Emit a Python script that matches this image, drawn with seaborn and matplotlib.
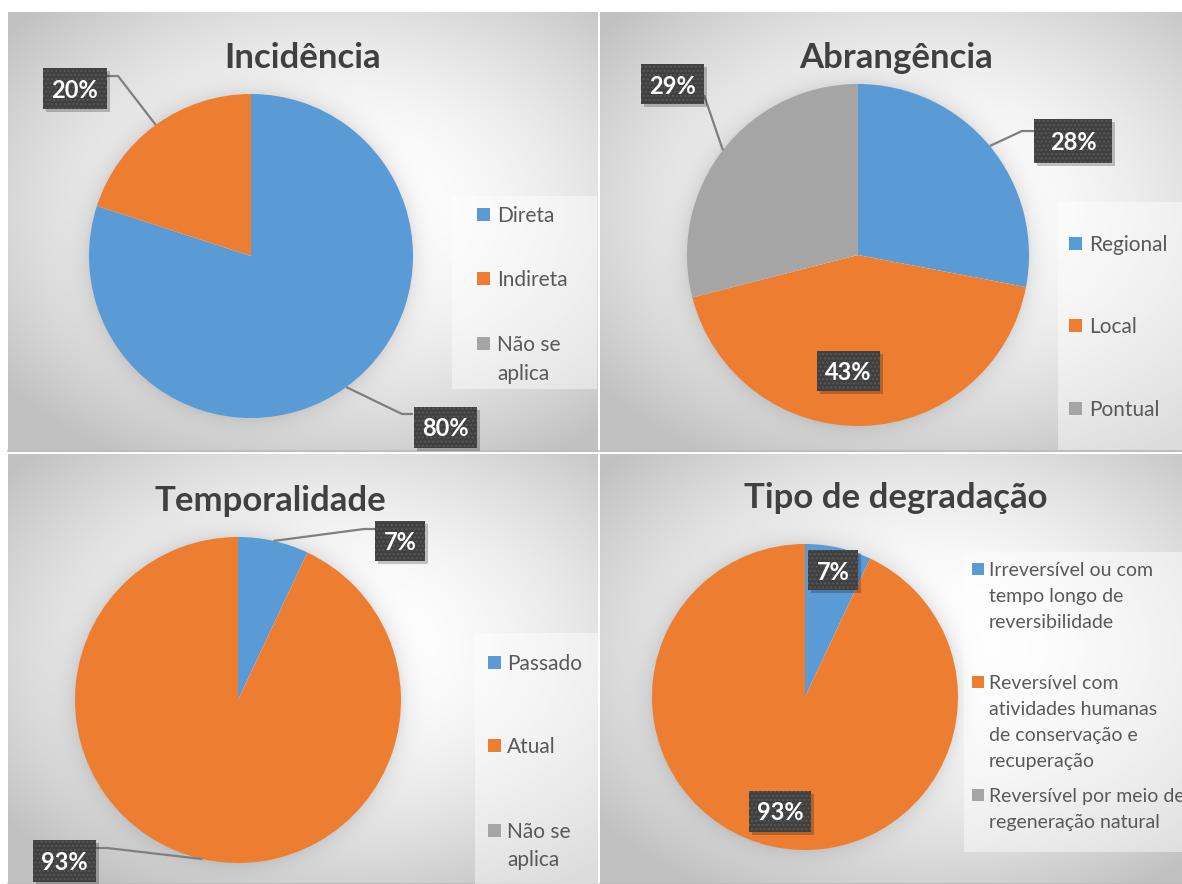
import numpy as np
import matplotlib
matplotlib.use("Agg")
import matplotlib.pyplot as plt
from matplotlib.patches import Rectangle
import seaborn as sns

# ---------------------------------------------------------------- data
titles = ["Incidência", "Abrangência", "Temporalidade", "Tipo de degradação"]

incid_labels = ["Direta", "Indireta", "Não se\naplica"]
incid_values = [80, 20, 0]

abr_labels = ["Regional", "Local", "Pontual"]
abr_values = [28, 43, 29]

temp_labels = ["Passado", "Atual", "Não se\naplica"]
temp_values = [7, 93, 0]

tipo_labels = [
    "Irreversível ou com\ntempo longo de\nreversibilidade",
    "Reversível com\natividades humanas\nde conservação e\nrecuperação",
    "Reversível por meio de\nregeneração natural",
]
tipo_values = [7, 93, 0]

# ---------------------------------------------------------------- style
sns.set_theme(style="white")
plt.rcParams["font.family"] = ["Lato", "DejaVu Sans"]
slice_colors = sns.color_palette(["#5B9BD5", "#ED7D31", "#A5A5A5"])
TITLE_C = "#404040"
LEGEND_C = "#595959"
BOX_C = "#404040"

W, H = 1182, 884


def Y(y):
    """Screen-style (top-down) pixel row to axis y."""
    return H - y


# ---------------------------------------------------------------- layout (pixels, top-down)
panels = [
    dict(rect=(8, 12, 598, 451), center=(251, 256), r=162, title=(303, 68), title_fs=25,
         legend_bg=(452, 196, 597, 389), key_x=477, text_x=497, key_fs=15, line_gap=29,
         entry_y=[214, 278, 343], key_size=13,
         boxes=[((445, 427), 63, 41, [(402, 414), (413, 414)]),
                ((75, 88), 64, 41, [(118, 76), (107, 76)]),
                None]),
    dict(rect=(600, 12, 1182, 451), center=(858, 255), r=171, title=(896, 68), title_fs=25,
         legend_bg=(1058, 202, 1182, 450), key_x=1069, text_x=1089, key_fs=15, line_gap=29,
         entry_y=[243, 325, 408], key_size=13,
         boxes=[((1073, 141), 78, 44, [(1022, 131), (1034, 131)]),
                ((848, 371), 63, 40, None),
                ((672, 84), 63, 40, [(704, 95)])]),
    dict(rect=(8, 454, 598, 884), center=(238, 700), r=163, title=(270, 511), title_fs=25,
         legend_bg=(475, 633, 600, 884), key_x=488, text_x=507, key_fs=15, line_gap=28,
         entry_y=[662, 745, 830], key_size=13,
         boxes=[((400, 541), 50, 40, [(364, 529), (375, 529)]),
                ((64, 861), 63, 42, [(107, 848), (96, 848)]),
                None]),
    dict(rect=(600, 454, 1182, 884), center=(805, 697), r=153, title=(896, 508), title_fs=25,
         legend_bg=(964, 552, 1182, 852), key_x=972, text_x=989, key_fs=14, line_gap=26,
         entry_y=[569, 682, 795], key_size=12,
         boxes=[((833, 570), 50, 40, None),
                ((780, 811), 62, 41, None),
                None]),
]
datasets = [
    (incid_labels, incid_values),
    (abr_labels, abr_values),
    (temp_labels, temp_values),
    (tipo_labels, tipo_values),
]

# ---------------------------------------------------------------- figure
fig = plt.figure(figsize=(W / 100, H / 100), dpi=100, facecolor="white")
ax = fig.add_axes([0, 0, 1, 1])
ax.set_axis_off()


def panel_background(p):
    """Radial light-grey gradient plus a soft shadow ring around the pie."""
    x0, y0, x1, y1 = p["rect"]
    w, h = x1 - x0, y1 - y0
    xx, yy = np.meshgrid(np.arange(x0, x1) + 0.5, np.arange(y0, y1) + 0.5)
    gx, gy = x0 + 0.55 * w, y0 + 0.45 * h
    rn = np.sqrt(((xx - gx) / (0.7 * w)) ** 2 + ((yy - gy) / (0.65 * h)) ** 2)
    t = np.clip((rn - 0.15) / 0.85, 0, 1)
    g = 1.0 - 0.24 * t ** 1.5
    cx, cy = p["center"]
    d = np.hypot(xx - cx, yy - cy) - p["r"]
    halo = np.where(d > -2, 0.10 * np.exp(-np.clip(d, 0, None) / 10.0), 0)
    g = g * (1 - halo)
    img = np.dstack([g, g, g])
    ax.imshow(img, extent=(x0, x1, Y(y1), Y(y0)), origin="upper",
              interpolation="bilinear", zorder=0)


for idx, (p, (labels, values)) in enumerate(zip(panels, datasets)):
    panel_background(p)
    x0, y0, x1, y1 = p["rect"]
    ax.plot([x0, x1], [Y(y1) + 0.5, Y(y1) + 0.5], color="#bdbdbd", lw=1.5, zorder=1)

    # legend backdrop
    lx0, ly0, lx1, ly1 = p["legend_bg"]
    ax.add_patch(Rectangle((lx0, Y(ly1)), lx1 - lx0, ly1 - ly0,
                           fc="white", ec="none", alpha=0.45, zorder=1))

    # pie, clockwise from 12 o'clock
    cx, cy = p["center"]
    wedges, _ = ax.pie(values, colors=slice_colors, startangle=90, counterclock=False,
                       center=(cx, Y(cy)), radius=p["r"], frame=True,
                       wedgeprops=dict(linewidth=0, zorder=2))

    # title
    ax.text(p["title"][0], Y(p["title"][1]), titles[idx],
            ha="center", va="baseline", fontsize=p["title_fs"], fontweight="bold",
            color=TITLE_C, zorder=5)

    # legend entries: key square level with the first text line
    ks = p["key_size"]
    for lab, col, ey in zip(labels, slice_colors, p["entry_y"]):
        ax.add_patch(Rectangle((p["key_x"], Y(ey) - ks / 2), ks, ks,
                               fc=col, ec="none", zorder=5))
        for i, line in enumerate(lab.split("\n")):
            ax.text(p["text_x"], Y(ey + i * p["line_gap"]), line, ha="left",
                    va="center_baseline", fontsize=p["key_fs"], color=LEGEND_C,
                    zorder=5)

    # data labels
    for wdg, val, box in zip(wedges, values, p["boxes"]):
        if box is None or val == 0:
            continue
        (bx, by), bw, bh, leader = box
        if leader is not None:
            mid = np.deg2rad((wdg.theta1 + wdg.theta2) / 2)
            ex, ey = cx + p["r"] * np.cos(mid), Y(cy) + p["r"] * np.sin(mid)
            pts = [(ex, ey)] + [(lx, Y(ly)) for lx, ly in leader]
            ax.plot([q[0] for q in pts], [q[1] for q in pts], color="#7f7f7f",
                    lw=1.6, zorder=6, solid_capstyle="butt")
        ax.add_patch(Rectangle((bx - bw / 2 + 3, Y(by) - bh / 2 - 3), bw, bh,
                               fc="black", ec="none", alpha=0.22, zorder=6))
        ax.add_patch(Rectangle((bx - bw / 2, Y(by) - bh / 2), bw, bh,
                               fc=BOX_C, ec="#585858", lw=0, hatch="....", zorder=7))
        ax.text(bx, Y(by), f"{val}%", ha="center", va="center_baseline",
                fontsize=17, fontweight="bold", color="white", zorder=8)

ax.set_xlim(0, W)
ax.set_ylim(0, H)
ax.set_aspect("auto")
fig.savefig("out.png", dpi=100, facecolor="white")
